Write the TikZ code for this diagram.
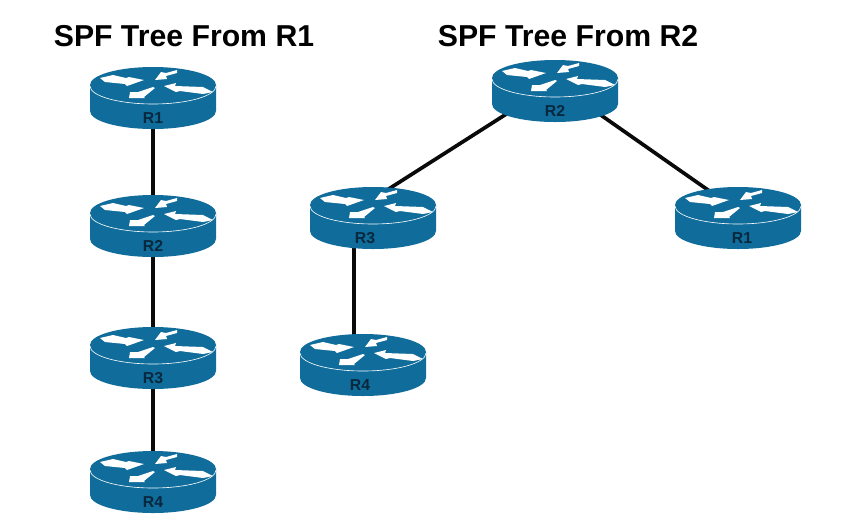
\documentclass[tikz,border=0pt]{standalone}
\usepackage{fontspec}
\setmainfont{Liberation Sans}
\usepackage{xcolor}
\usepackage{tikz}
\usetikzlibrary{backgrounds}
\definecolor{routerblue}{RGB}{15,108,155}
\definecolor{linkdark}{RGB}{10,10,10}
\definecolor{labeldark}{RGB}{8,40,62}
\tikzset{
  router/.style={rectangle, minimum width=2.52cm, minimum height=1.26cm, inner sep=0pt, outer sep=0pt},
  routerbody/.style={fill=routerblue, draw=none},
  routerlabel/.style={font=\fontsize{9}{9}\selectfont\bfseries, text=labeldark, inner sep=0pt},
  treetitle/.style={font=\fontsize{17.2}{17.2}\selectfont\bfseries, text=black, inner sep=0pt},
  flowarrow/.style={fill=white, draw=none},
  rimline/.style={white, line width=0.35pt},
  link/.style={line width=2.1pt, color=linkdark}
}
% router icon: name, x, y of the body centre, label, label offset
\newcommand{\router}[5]{
  \node[router] (#1) at (#2,#3) {};
  \begin{scope}[shift={(#2,#3-12)}]
    \fill[routerbody] (-63,0) arc[start angle=180, end angle=0, x radius=63, y radius=-18]
      -- (63,26) arc[start angle=0, end angle=-180, x radius=63, y radius=-18] -- cycle;
    \draw[rimline] (-63,1) arc[start angle=180, end angle=360, x radius=63, y radius=-18];
    \fill[flowarrow] (-53,-7) -- (-40,-10) -- (-27,-7) -- (-24,-8) -- (-9,-5) -- (-26,1) -- (-28,-1) -- (-48,-3) -- cycle;
    \fill[flowarrow] (24,-15) -- (13,-12) -- (8,-13) -- (2,-5) -- (14,-6) -- (13,-9) -- (24,-12) -- cycle;
    \fill[flowarrow] (60,7) -- (50,2) -- (22,1) -- (23,-2) -- (11,1) -- (23,7) -- (27,6) -- (50,9) -- cycle;
    \fill[flowarrow] (-24,13) -- (-23,7) -- (-15,7) -- (0,2) -- (2,3) -- (-9,12) -- (-8,13) -- cycle;
  \end{scope}
  \node[routerlabel] (#1label) at (#2+#5,#3+21) {#4};
}

\begin{document}
\begin{tikzpicture}[x=0.02cm, y=-0.02cm]
  \useasboundingbox (0,0) rectangle (847,531);

  % Titles
  \node[treetitle] (titleone) at (184,36) {SPF Tree From R1};
  \node[treetitle] (titletwo) at (568,36) {SPF Tree From R2};

  % Tree from R1
  \router{aone}{153}{97}{R1}{0}
  \router{atwo}{153}{225}{R2}{0}
  \router{athree}{153}{357}{R3}{0}
  \router{afour}{153}{481}{R4}{0}

  % Tree from R2
  \router{btwo}{555}{90}{R2}{0}
  \router{bthree}{373}{217}{R3}{-8}
  \router{bone}{738}{217}{R1}{4}
  \router{bfour}{363}{364}{R4}{-3}

  % Links
  \begin{pgfonlayer}{background}
    \draw[link] (aone.center) -- (atwo.center);
    \draw[link] (atwo.center) -- (athree.center);
    \draw[link] (athree.center) -- (afour.center);
    \draw[link] ([yshift=0.14cm]btwo.center) -- ([yshift=0.36cm]bthree.center);
    \draw[link] ([yshift=0.14cm]btwo.center) -- ([yshift=0.12cm]bone.center);
    \draw[link] ([xshift=-0.38cm]bthree.center) -- ([xshift=-0.18cm]bfour.center);
  \end{pgfonlayer}
\end{tikzpicture}
\end{document}
